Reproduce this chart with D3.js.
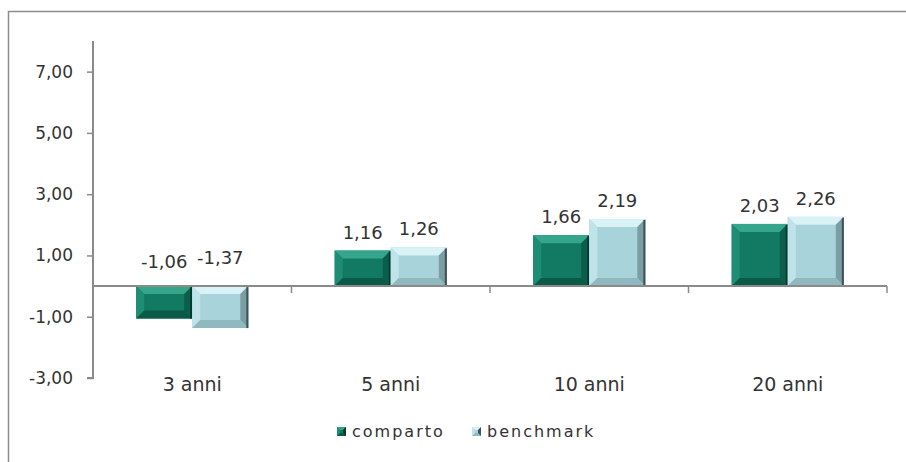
<!DOCTYPE html>
<html>
<head>
<meta charset="utf-8">
<script src="https://cdn.jsdelivr.net/npm/d3@7"></script>
<style>
  body { margin: 0; background: #fff; }
  text { font-family: "DejaVu Sans", sans-serif; fill: #333; }
</style>
</head>
<body>
<svg id="chart" width="906" height="462"></svg>
<script>
let categories = ["3 anni", "5 anni", "10 anni", "20 anni"]
let comparto = [-1.06, 1.16, 1.66, 2.03]
let benchmark = [-1.37, 1.26, 2.19, 2.26]
let yTicks = [-3, -1, 1, 3, 5, 7]
let seriesNames = ["comparto", "benchmark"]

let svg = d3.select("#chart")
let W = 906, H = 462
let margin = {left: 93, right: 19, top: 41, bottom: 84}

let fmt = v => d3.format(".2f")(v).replace(".", ",").replace("−", "-")

// outer frame
svg.append("rect").attr("x", 8.5).attr("y", 11.5).attr("width", W + 10).attr("height", H + 10)
    .attr("fill", "none").attr("stroke", "#8c8c8c").attr("stroke-width", 1.5)

let x = d3.scaleBand().domain(categories).range([margin.left, W - margin.right]).paddingInner(0).paddingOuter(0)
let y = d3.scaleLinear().domain([-3, 8]).range([H - margin.bottom, margin.top])

let sub = d3.scaleBand().domain(seriesNames).range([0, x.bandwidth()]).paddingInner(0).paddingOuter(0.77)

let pal = {
    comparto: {face: "#127a63", top: "#35a58b", left: "#1d8d73", right: "#0b5e4c", bottom: "#0a5a47", edge: "#06392e"},
    benchmark: {face: "#a9d3da", top: "#d8f2f5", left: "#c0e3e9", right: "#7b9ea4", bottom: "#8fb8bf", edge: "#3d5357"}
}

// y axis
let yAxis = svg.append("g").attr("transform", "translate(" + margin.left + ",0)")
    .call(d3.axisLeft(y).tickValues(yTicks).tickSize(6).tickPadding(14).tickFormat(fmt))
yAxis.select(".domain").attr("stroke", "#8a8a8a").attr("stroke-width", 2)
    .attr("d", "M0," + y(8) + "V" + y(-3) + "H-6")
yAxis.selectAll(".tick line").attr("stroke", "#8a8a8a").attr("stroke-width", 1.5)
yAxis.selectAll(".tick text").style("font-size", "17px").style("fill", "#333").style("font-family", "DejaVu Sans")

// bars
let bevel = 8
let data = []
categories.forEach((c, i) => {
    data.push({cat: c, s: "comparto", v: comparto[i]})
    data.push({cat: c, s: "benchmark", v: benchmark[i]})
})

let bars = svg.append("g")
data.forEach(d => {
    let x0 = x(d.cat) + sub(d.s), x1 = x0 + sub.bandwidth()
    let y0 = y(Math.max(d.v, 0)), y1 = y(Math.min(d.v, 0))
    let b = Math.min(bevel, (y1 - y0) / 2)
    let c = pal[d.s]
    let g = bars.append("g")
    g.append("rect").attr("x", x0).attr("y", y0).attr("width", x1 - x0).attr("height", y1 - y0).attr("fill", c.face)
    let poly = (pts, fill) => g.append("polygon").attr("points", pts.map(p => p.join(",")).join(" ")).attr("fill", fill)
    poly([[x0, y0], [x1, y0], [x1 - b, y0 + b], [x0 + b, y0 + b]], c.top)
    poly([[x0, y0], [x0 + b, y0 + b], [x0 + b, y1 - b], [x0, y1]], c.left)
    poly([[x1, y0], [x1, y1], [x1 - b, y1 - b], [x1 - b, y0 + b]], c.right)
    poly([[x0, y1], [x0 + b, y1 - b], [x1 - b, y1 - b], [x1, y1]], c.bottom)
    g.append("line").attr("x1", x1 - 1).attr("x2", x1 - 1).attr("y1", y0 + 1).attr("y2", y1)
        .attr("stroke", c.edge).attr("stroke-width", 2)

    let ly = d.v >= 0 ? y0 - 12 : y(0) - 18 - (d.s === "benchmark" ? 4 : 0)
    svg.append("text").attr("x", (x0 + x1) / 2).attr("y", ly).attr("text-anchor", "middle")
        .style("font-size", "18px").text(fmt(d.v))
})

// x axis at zero
let xAxis = svg.append("g").attr("transform", "translate(0," + y(0) + ")")
xAxis.append("path").attr("d", "M" + margin.left + ",0H" + (W - margin.right))
    .attr("stroke", "#8a8a8a").attr("stroke-width", 2).attr("fill", "none")
xAxis.selectAll(".xt").data(categories).join("line").attr("class", "xt")
    .attr("x1", d => x(d) + x.bandwidth()).attr("x2", d => x(d) + x.bandwidth())
    .attr("y1", 0).attr("y2", 7).attr("stroke", "#8a8a8a").attr("stroke-width", 1.5)

svg.selectAll(".cat").data(categories).join("text").attr("class", "cat")
    .attr("x", d => x(d) + x.bandwidth() / 2).attr("y", 391).attr("text-anchor", "middle")
    .style("font-size", "19px").text(d => d)

// legend
let legX = [337, 472]
seriesNames.forEach((s, i) => {
    let c = pal[s]
    let lg = svg.append("g").attr("transform", "translate(" + legX[i] + ",427)")
    lg.append("rect").attr("width", 9).attr("height", 9).attr("fill", c.face)
    lg.append("polygon").attr("points", "0,0 9,0 6,3 3,3").attr("fill", c.top)
    lg.append("polygon").attr("points", "0,9 9,9 6,6 3,6").attr("fill", c.bottom)
    lg.append("polygon").attr("points", "0,0 3,3 3,6 0,9").attr("fill", c.left)
    lg.append("polygon").attr("points", "9,0 9,9 6,6 6,3").attr("fill", c.edge)
    lg.append("text").attr("x", 15).attr("y", 9.5).style("font-size", "16px")
        .style("letter-spacing", "2px").text(s)
})
</script>
</body>
</html>
